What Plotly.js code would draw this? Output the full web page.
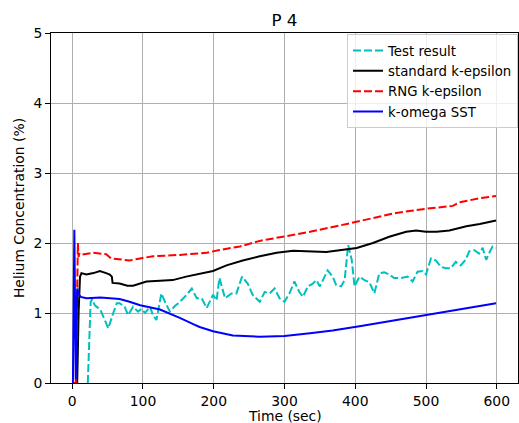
<!DOCTYPE html>
<html>
<head>
<meta charset="utf-8">
<script src="https://cdn.plot.ly/plotly-3.0.1.min.js"></script>
<style>html,body{margin:0;padding:0;background:#fff;}#chart{width:519px;height:423px;}</style>
</head>
<body>
<div id="chart"></div>
<script>
// Test result
const testT = [22, 26, 28, 32, 37, 40, 46, 51, 58, 63, 67, 74, 79, 86, 93, 98, 103, 110, 114, 119, 126, 131, 138, 145, 150, 159, 169, 176, 183, 190, 199, 204, 208, 216, 225, 232, 240, 248, 255, 265, 272, 279, 286, 293, 300, 307, 314, 321, 326, 333, 340, 345, 350, 354, 361, 368, 373, 380, 385, 390, 395, 399, 406, 413, 420, 427, 434, 441, 448, 455, 465, 474, 481, 488, 495, 500, 507, 514, 521, 528, 535, 542, 549, 556, 561, 568, 575, 580, 585, 589, 594, 599];
const testV = [0, 1.15, 1.20, 1.11, 1.07, 1.04, 0.90, 0.78, 1.00, 1.14, 1.14, 1.09, 0.97, 1.09, 1.02, 1.06, 1.00, 1.09, 0.97, 0.90, 1.28, 1.16, 1.02, 1.10, 1.14, 1.23, 1.35, 1.21, 1.21, 1.07, 1.26, 1.18, 1.50, 1.21, 1.28, 1.28, 1.52, 1.42, 1.26, 1.16, 1.30, 1.28, 1.35, 1.21, 1.16, 1.28, 1.45, 1.30, 1.23, 1.38, 1.42, 1.47, 1.38, 1.47, 1.61, 1.52, 1.40, 1.38, 1.47, 1.97, 1.76, 1.38, 1.52, 1.47, 1.44, 1.28, 1.57, 1.58, 1.55, 1.50, 1.50, 1.52, 1.45, 1.59, 1.60, 1.55, 1.78, 1.75, 1.66, 1.64, 1.64, 1.73, 1.68, 1.76, 1.88, 1.90, 1.85, 1.93, 1.76, 1.85, 1.95, 1.93];

// standard k-epsilon
const skeT = [0, 7, 9, 11, 13, 20, 30, 39, 48, 53, 56, 57, 67, 78, 86, 95, 105, 124, 142, 161, 180, 199, 218, 241, 265, 289, 312, 326, 340, 359, 383, 402, 425, 448, 472, 486, 500, 515, 533, 557, 576, 599];
const skeV = [0, 0, 1.00, 1.52, 1.57, 1.55, 1.57, 1.60, 1.57, 1.55, 1.52, 1.43, 1.42, 1.39, 1.39, 1.42, 1.45, 1.46, 1.47, 1.52, 1.56, 1.60, 1.68, 1.75, 1.81, 1.86, 1.89, 1.89, 1.88, 1.87, 1.90, 1.93, 2.00, 2.09, 2.16, 2.18, 2.16, 2.16, 2.18, 2.24, 2.27, 2.32];

// RNG k-epsilon
const rngT = [0, 5, 8, 9, 10, 12, 30, 48, 55, 67, 81, 96, 114, 152, 190, 208, 237, 265, 300, 336, 378, 416, 458, 500, 538, 547, 576, 599];
const rngV = [0, 0, 2.00, 1.80, 1.85, 1.83, 1.86, 1.84, 1.78, 1.77, 1.75, 1.78, 1.81, 1.83, 1.86, 1.90, 1.95, 2.03, 2.09, 2.16, 2.25, 2.34, 2.43, 2.49, 2.53, 2.58, 2.64, 2.67];

// k-omega SST
const sstT = [0, 1, 3, 5, 7, 9, 12, 20, 40, 60, 67, 81, 96, 124, 143, 152, 171, 180, 199, 208, 227, 265, 300, 336, 368, 406, 472, 530, 599];
const sstV = [0, 0, 2.19, 0.05, 1.35, 1.27, 1.23, 1.21, 1.22, 1.21, 1.20, 1.16, 1.11, 1.05, 0.97, 0.93, 0.84, 0.80, 0.74, 0.72, 0.68, 0.66, 0.67, 0.71, 0.75, 0.81, 0.92, 1.02, 1.14];

const xTicks = [0, 100, 200, 300, 400, 500, 600];
const yTicks = [0, 1, 2, 3, 4, 5];

const font = 'DejaVu Sans, sans-serif';
const lw = 2;

const traces = [
  {x: testT, y: testV, name: 'Test result', mode: 'lines', line: {color: '#00BFBF', width: lw, dash: '8px,3px'}},
  {x: skeT, y: skeV, name: 'standard k-epsilon', mode: 'lines', line: {color: '#000000', width: lw}},
  {x: rngT, y: rngV, name: 'RNG k-epsilon', mode: 'lines', line: {color: '#FF0000', width: lw, dash: '8px,3px'}},
  {x: sstT, y: sstV, name: 'k-omega SST', mode: 'lines', line: {color: '#0000FF', width: lw}}
];

const axisCommon = {
  showline: true, mirror: true, linecolor: '#000', linewidth: 1,
  ticks: 'outside', ticklen: 5, tickcolor: '#000', tickwidth: 1,
  showgrid: true, gridcolor: '#b0b0b0', gridwidth: 1,
  zeroline: false, tickfont: {family: font, size: 13.9, color: '#000'}
};

const layout = {
  width: 519, height: 423,
  margin: {l: 51, r: 1, t: 33, b: 40},
  paper_bgcolor: '#fff', plot_bgcolor: '#fff',
  font: {family: font, color: '#000'},
  title: {text: 'P 4', font: {family: font, size: 16.7, color: '#000'}, x: 0.5, xref: 'paper', y: 1 - 20/423, yref: 'container', yanchor: 'middle'},
  xaxis: Object.assign({}, axisCommon, {
    range: [-30, 630], tickvals: xTicks, ticktext: xTicks.map(String)
  }),
  yaxis: Object.assign({}, axisCommon, {
    range: [0, 5], tickvals: yTicks, ticktext: yTicks.map(String),
    title: {text: 'Helium Concentration (%)', font: {family: font, size: 13.9, color: '#000'}, standoff: 5}
  }),
  annotations: [{
    text: 'Time (sec)', xref: 'paper', yref: 'paper', x: 0.5, y: -0.093,
    xanchor: 'center', yanchor: 'middle', showarrow: false,
    font: {family: font, size: 13.9, color: '#000'}
  }],
  showlegend: true,
  legend: {
    x: 1.0, y: 0.996, xanchor: 'right', yanchor: 'top',
    bgcolor: 'rgba(255,255,255,0.8)', bordercolor: '#cccccc', borderwidth: 1,
    font: {family: font, size: 13.3, color: '#000'}, itemwidth: 30, tracegroupgap: 0
  }
};

Plotly.newPlot('chart', traces, layout, {staticPlot: true, displayModeBar: false});
</script>
</body>
</html>
